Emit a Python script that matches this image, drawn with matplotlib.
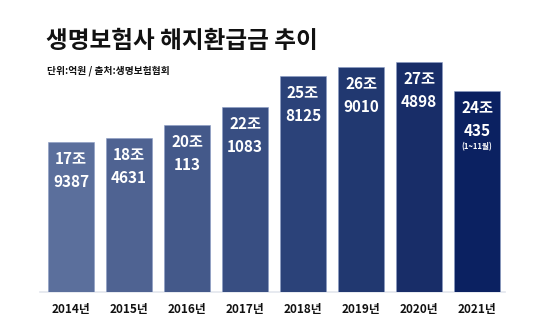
import matplotlib
matplotlib.use("Agg")
import matplotlib.pyplot as plt

plt.rcParams['font.family'] = ['Noto Sans CJK KR', 'DejaVu Sans']

years = ["2014년", "2015년", "2016년", "2017년", "2018년", "2019년", "2020년", "2021년"]
values = [179387, 184631, 200113, 221083, 258125, 269010, 274898, 240435]  # 억원
label_top = ["17조", "18조", "20조", "22조", "25조", "26조", "27조", "24조"]
label_bottom = ["9387", "4631", "113", "1083", "8125", "9010", "4898", "435"]
notes = ["", "", "", "", "", "", "", "(1~11월)"]
colors = ["#5b6f9c", "#4f6392", "#44598a", "#384e82", "#2b4279", "#213870", "#182d68", "#0b2161"]

title = "생명보험사 해지환급금 추이"
subtitle = "단위:억원 / 출처:생명보험협회"

W, H, DPI = 550, 335, 100
fig = plt.figure(figsize=(W / DPI, H / DPI), dpi=DPI)
fig.patch.set_facecolor("white")

base_px = 292
ax = fig.add_axes([0, (H - base_px) / H, 1, base_px / H])
ax.set_axis_off()
x0, step = 71, 58
ax.set_xlim(-x0 / step, (W - x0) / step)
scale = 230 / 274898
ax.set_ylim(0, base_px / scale)

xs = list(range(len(years)))
ax.bar(xs, values, width=46 / step, color=colors, edgecolor="#8a9cc4", linewidth=0.4, zorder=2)
ax.plot([(40 - x0) / step, (505 - x0) / step], [0, 0], color="#e3e6ee", lw=1.2, zorder=1, clip_on=False)

for x, v, a, b, n in zip(xs, values, label_top, label_bottom, notes):
    ax.annotate(a, (x, v), xytext=(0, -17), textcoords="offset pixels", ha="center", va="center",
                color="white", fontsize=11, fontweight="bold")
    ax.annotate(b, (x, v), xytext=(0, -40), textcoords="offset pixels", ha="center", va="center",
                color="white", fontsize=11, fontweight="bold")
    if n:
        ax.annotate(n, (x, v), xytext=(0, -56), textcoords="offset pixels", ha="center", va="center",
                    color="white", fontsize=5.5, fontweight="bold")
    ax.annotate(years[x], (x, 0), xytext=(0, -17), textcoords="offset pixels", ha="center", va="center",
                color="#111111", fontsize=8.5, fontweight="bold", annotation_clip=False)

fig.text(46 / W, 1 - 41 / H, title, ha="left", va="center", fontsize=17, fontweight="heavy", color="#111111")
fig.text(47 / W, 1 - 71 / H, subtitle, ha="left", va="center", fontsize=7, fontweight="heavy", color="#111111")

fig.savefig("out.png", dpi=DPI, facecolor="white")
